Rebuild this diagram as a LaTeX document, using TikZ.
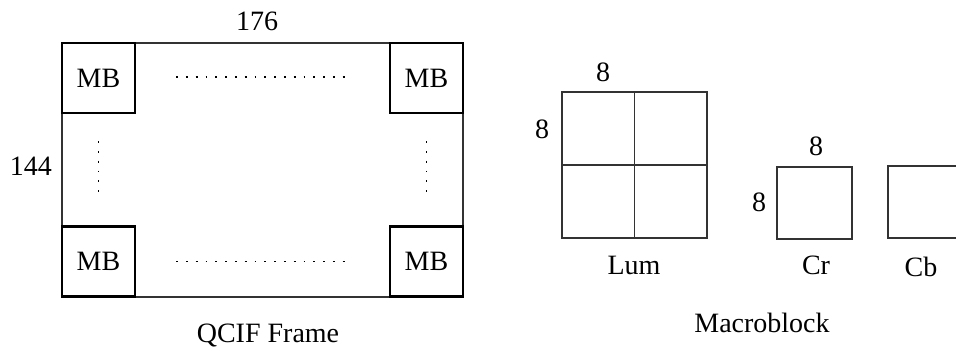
\documentclass[tikz,border=0pt]{standalone}
\usepackage{fontspec}
\setmainfont{Liberation Serif}
\begin{document}
\begin{tikzpicture}[x=0.5pt, y=-0.5pt, font=\fontsize{14}{16}\selectfont,
  mb/.style={draw, line width=1.1pt, minimum width=36.5pt, minimum height=35pt, inner sep=0pt},
  blk/.style={draw, line width=0.6pt, draw=black!80, inner sep=0pt},
  dots/.style={line width=0.9pt, dash pattern=on 0.9pt off 4pt}]
\useasboundingbox (0,0) rectangle (956,349);
% QCIF frame
\node[draw, line width=0.6pt, draw=black!80, minimum width=200.5pt, minimum height=127pt, inner sep=0pt] (frame) at (262.5,170) {};
\node[mb] (mbtl) at (98.5,78) {MB};
\node[mb] (mbtr) at (426.5,78) {MB};
\node[mb] (mbbl) at (98.5,261.5) {MB};
\node[mb] (mbbr) at (426.5,261.5) {MB};
\draw[dots] ([xshift=20pt,yshift=0.5pt]mbtl.east) -- ([xshift=-18.5pt,yshift=0.5pt]mbtr.west);
\draw[dots] ([xshift=20pt]mbbl.east) -- ([xshift=-18.5pt]mbbr.west);
\draw[dots] ([yshift=-13.5pt]mbtl.south) -- ([yshift=13pt]mbbl.north);
\draw[dots] ([yshift=-13.5pt]mbtr.south) -- ([yshift=13pt]mbbr.north);
\node[anchor=base] (width) at (257,30) {176};
\node[anchor=base] (height) at (31,175) {144};
\node[anchor=base] (qcif) at (268,342) {QCIF Frame};
% macroblock: luminance and the two chroma blocks
\node[blk, minimum width=72.5pt, minimum height=73pt] (lum) at (634.5,165) {};
\draw[line width=0.6pt, black!80] (lum.north) -- (lum.south);
\draw[line width=0.6pt, black!80] (lum.west) -- (lum.east);
\node[blk, minimum width=37.5pt, minimum height=36pt] (cr) at (814.5,203) {};
\node[blk, minimum width=37.5pt, minimum height=36pt] (cb) at (925.5,202) {};
\node[anchor=base] (lumw) at (603,81) {8};
\node[anchor=base] (lumh) at (542,138) {8};
\node[anchor=base] (crw) at (816,155) {8};
\node[anchor=base] (crh) at (759,211) {8};
\node[anchor=base] (lumlbl) at (634,274) {Lum};
\node[anchor=base] (crlbl) at (816,274) {Cr};
\node[anchor=base] (cblbl) at (921,276) {Cb};
\node[anchor=base] (mblbl) at (762,332) {Macroblock};
\end{tikzpicture}
\end{document}
